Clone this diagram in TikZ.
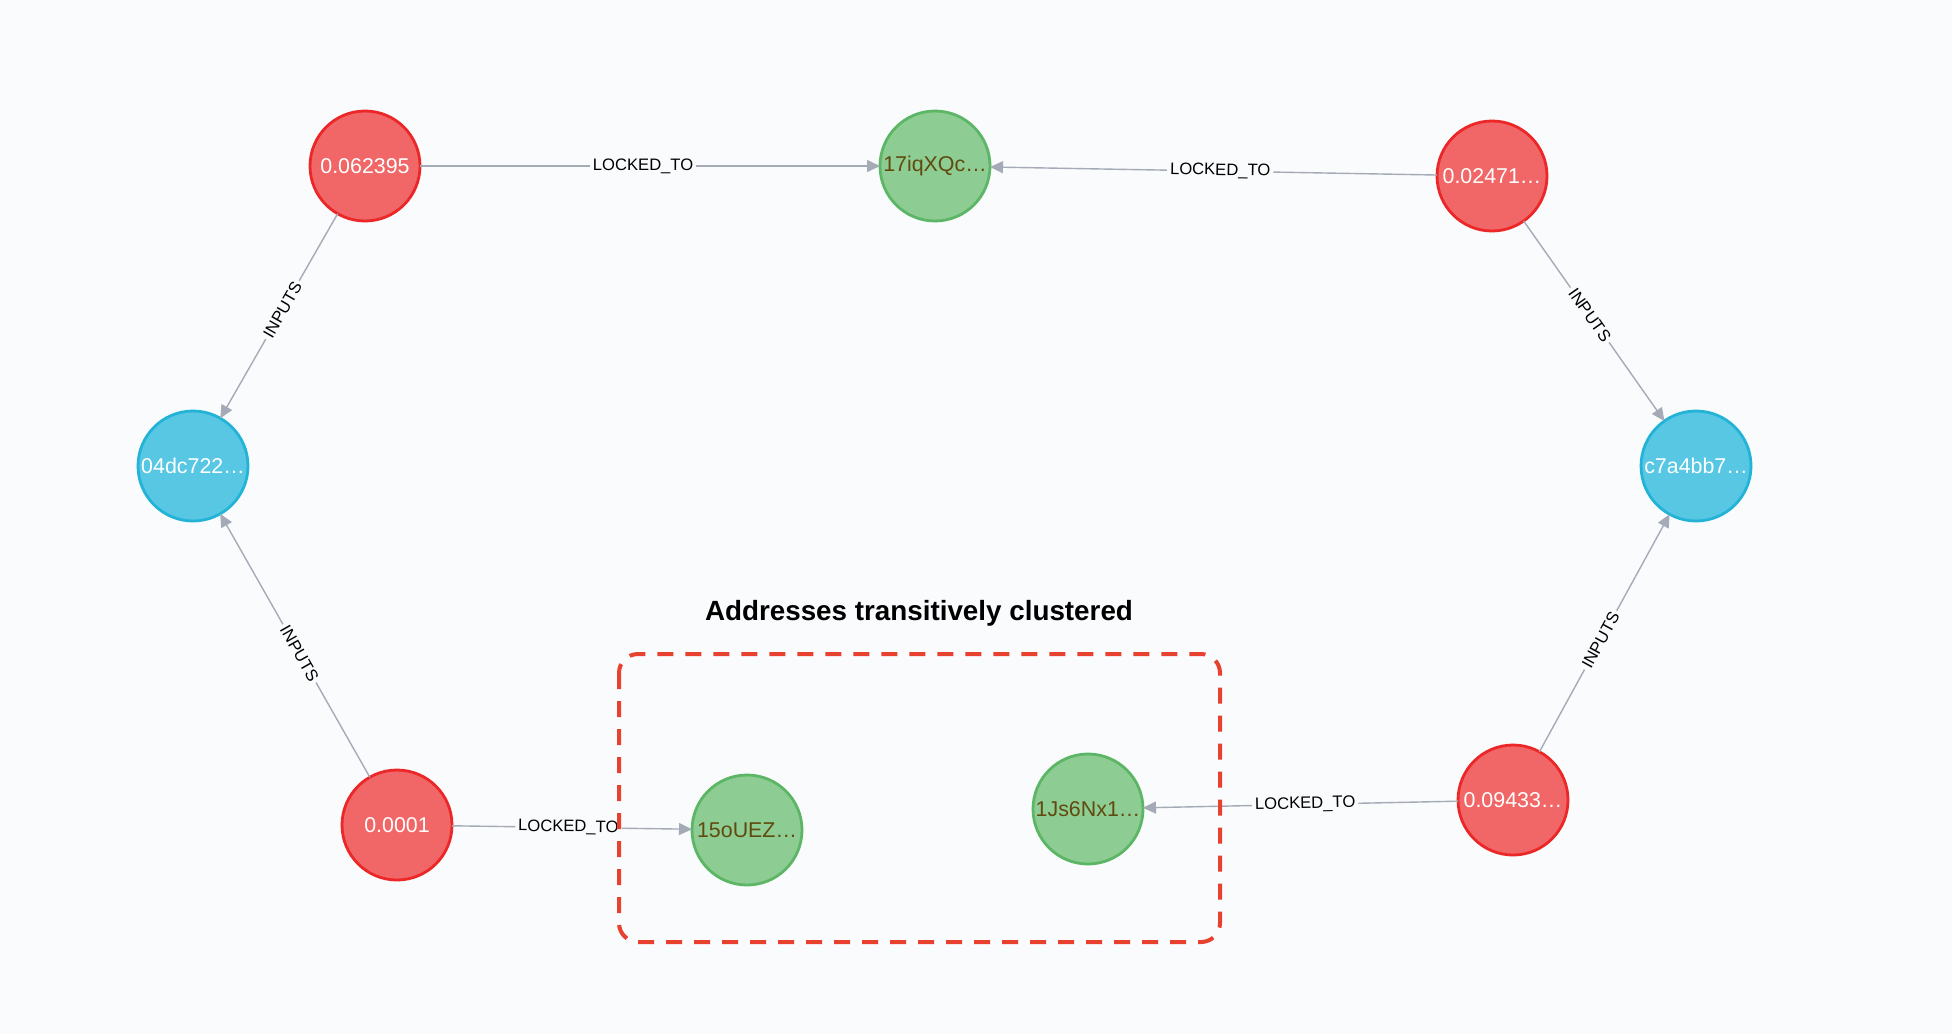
\documentclass[tikz,border=0pt]{standalone}
\usepackage{fontspec}
\setmainfont{Liberation Sans}
\usetikzlibrary{arrows.meta}
\definecolor{bg}{HTML}{F9FBFD}
\definecolor{redfill}{HTML}{F16667}
\definecolor{redline}{HTML}{EB2728}
\definecolor{greenfill}{HTML}{8DCC93}
\definecolor{greenline}{HTML}{5DB665}
\definecolor{greentext}{HTML}{604A0E}
\definecolor{bluefill}{HTML}{57C7E3}
\definecolor{blueline}{HTML}{23B3D7}
\definecolor{edgec}{HTML}{A5ABB6}
\definecolor{boxc}{HTML}{E94130}
\tikzset{
  gnode/.style={circle, minimum size=55pt, inner sep=0pt, outer sep=0pt, line width=1.4pt, font=\fontsize{10.7}{12}\selectfont},
  rednode/.style={gnode, fill=redfill, draw=redline, text=white},
  greennode/.style={gnode, fill=greenfill, draw=greenline, text=greentext},
  bluenode/.style={gnode, fill=bluefill, draw=blueline, text=white},
  rel/.style={draw=edgec, line width=0.7pt, -{Triangle[length=6.5pt,width=6pt]}},
  rellabel/.style={fill=bg, inner sep=1.5pt, font=\fontsize{8.3}{10}\selectfont, text=black, sloped, pos=0.47},
  lockedlabel/.style={rellabel, pos=0.485},
  clusterbox/.style={draw=boxc, line width=2pt, dash pattern=on 8pt off 6pt, rounded corners=9.5pt}
}
\begin{document}
\begin{tikzpicture}[x=0.5pt,y=-0.5pt]
\fill[bg] (0,0) rectangle (1952,1034);
\useasboundingbox (0,0) rectangle (1952,1034);

\node[rednode] (t1) at (365,166) {0.062395};
\node[greennode] (a1) at (935,166) {17iqXQc…};
\node[rednode] (t2) at (1492,176) {0.02471…};
\node[bluenode] (x1) at (193,466) {04dc722…};
\node[bluenode] (x2) at (1696,466) {c7a4bb7…};
\node[rednode] (t3) at (397,825) {0.0001};
\node[greennode] (a2) at (747,830) {15oUEZ…};
\node[greennode] (a3) at (1088,809) {1Js6Nx1…};
\node[rednode] (t4) at (1513,800) {0.09433…};

\draw[rel] (t1) -- node[lockedlabel] {LOCKED\_TO} (a1);
\draw[rel] (t2) -- node[lockedlabel] {LOCKED\_TO} (a1);
\draw[rel] (t1) -- node[rellabel] {INPUTS} (x1);
\draw[rel] (t3) -- node[rellabel] {INPUTS} (x1);
\draw[rel] (t2) -- node[rellabel] {INPUTS} (x2);
\draw[rel] (t4) -- node[rellabel] {INPUTS} (x2);
\draw[rel] (t3) -- node[lockedlabel] {LOCKED\_TO} (a2);
\draw[rel] (t4) -- node[lockedlabel] {LOCKED\_TO} (a3);

\node[font=\bfseries\fontsize{13.9}{16}\selectfont] (title) at (919,613) {Addresses transitively clustered};
\coordinate (boxnw) at (619,654);
\coordinate (boxse) at (1220,942);
\draw[clusterbox] (boxnw) rectangle (boxse);
\end{tikzpicture}
\end{document}
